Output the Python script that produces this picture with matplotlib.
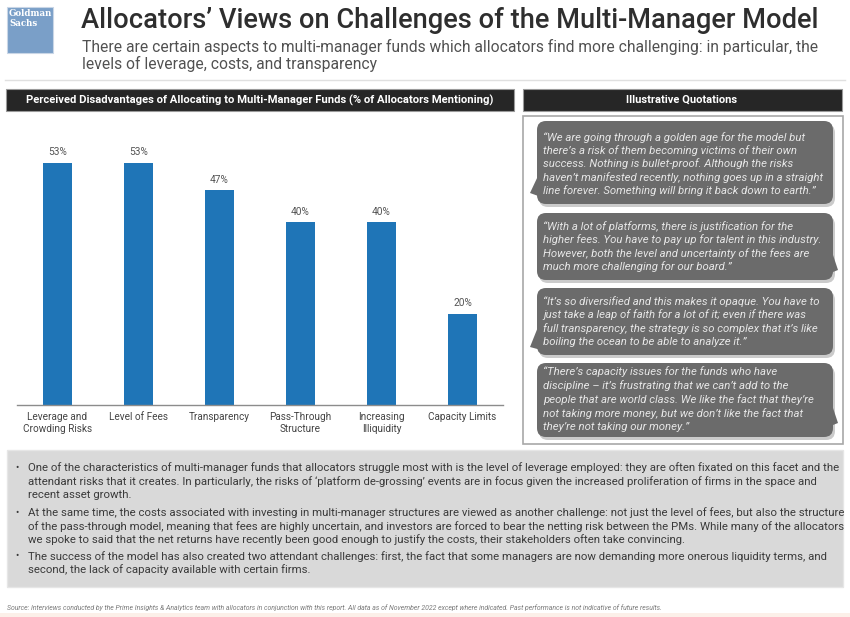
import matplotlib
matplotlib.use("Agg")
import matplotlib.pyplot as plt
from matplotlib import font_manager
from matplotlib.patches import Rectangle, FancyBboxPatch, Polygon

# fuente estrecha si existe, si no Roboto
fuentes = font_manager.fontManager.ttflist
nombres = {f.name for f in fuentes}
NARROW = 'Liberation Sans Narrow' if 'Liberation Sans Narrow' in nombres else 'Roboto'
# peso del titulo: Roboto Medium si esta instalada
hay_medium = any(f.name == 'Roboto' and f.weight == 500 for f in fuentes)
PESO_TITULO = 500 if hay_medium else 'bold'
plt.rcParams['font.family'] = ['Roboto', 'DejaVu Sans']

# ---------------- datos ----------------
categories = ['Leverage and\nCrowding Risks', 'Level of Fees', 'Transparency',
              'Pass-Through\nStructure', 'Increasing\nIlliquidity', 'Capacity Limits']
shares = [53, 53, 47, 40, 40, 20]

title = "Allocators’ Views on Challenges of the Multi-Manager Model"
subtitle = ["There are certain aspects to multi-manager funds which allocators find more challenging: in particular, the",
            "levels of leverage, costs, and transparency"]
chart_header = "Perceived Disadvantages of Allocating to Multi-Manager Funds (% of Allocators Mentioning)"
quotes_header = "Illustrative Quotations"

quotes = [
    ["“We are going through a golden age for the model but",
     "there’s a risk of them becoming victims of their own",
     "success. Nothing is bullet-proof. Although the risks",
     "haven’t manifested recently, nothing goes up in a straight",
     "line forever. Something will bring it back down to earth.”"],
    ["“With a lot of platforms, there is justification for the",
     "higher fees. You have to pay up for talent in this industry.",
     "However, both the level and uncertainty of the fees are",
     "much more challenging for our board.”"],
    ["“It’s so diversified and this makes it opaque. You have to",
     "just take a leap of faith for a lot of it; even if there was",
     "full transparency, the strategy is so complex that it’s like",
     "boiling the ocean to be able to analyze it.”"],
    ["“There’s capacity issues for the funds who have",
     "discipline – it’s frustrating that we can’t add to the",
     "people that are world class. We like the fact that they’re",
     "not taking more money, but we don’t like the fact that",
     "they’re not taking our money.”"],
]

bullets = [
    ["One of the characteristics of multi-manager funds that allocators struggle most with is the level of leverage employed: they are often fixated on this facet and the",
     "attendant risks that it creates. In particularly, the risks of ‘platform de-grossing’ events are in focus given the increased proliferation of firms in the space and",
     "recent asset growth."],
    ["At the same time, the costs associated with investing in multi-manager structures are viewed as another challenge: not just the level of fees, but also the structure",
     "of the pass-through model, meaning that fees are highly uncertain, and investors are forced to bear the netting risk between the PMs. While many of the allocators",
     "we spoke to said that the net returns have recently been good enough to justify the costs, their stakeholders often take convincing."],
    ["The success of the model has also created two attendant challenges: first, the fact that some managers are now demanding more onerous liquidity terms, and",
     "second, the lack of capacity available with certain firms."],
]

source = ("Source: Interviews conducted by the Prime Insights & Analytics team with allocators in conjunction with this report. "
          "All data as of November 2022 except where indicated. Past performance is not indicative of future results.")

# ---------------- figura ----------------
fig = plt.figure(figsize=(8.5, 6.17), dpi=100)
bg = fig.add_axes([0, 0, 1, 1])
bg.set_xlim(0, 850)
bg.set_ylim(617, 0)
bg.axis('off')
rend = fig.canvas.get_renderer()


def poner_lineas(x, ys, lineas, ancho, size, **kw):
    """Dibuja lineas de texto y ajusta el tamaño para que la mas larga mida 'ancho' px."""
    ts = [bg.text(x, y, l, fontsize=size, va='center', **kw) for l, y in zip(lineas, ys)]
    w = max(t.get_window_extent(rend).width for t in ts)
    nuevo = min(size * 1.2, size * ancho / w)
    for t in ts:
        t.set_fontsize(nuevo)
    return ts


# logo
bg.add_patch(Rectangle((7, 7), 46, 46, fc='#7a9fc8', ec='#c9d6e6', lw=0.8))
bg.text(9, 14, "Goldman", color='white', fontsize=6.2, family='DejaVu Serif', fontweight='bold', va='center')
bg.text(9, 23, "Sachs", color='white', fontsize=6.2, family='DejaVu Serif', fontweight='bold', va='center')

# titulo y subtitulo
poner_lineas(81, [20], [title], 737, 19, color='#2e2e2e', fontweight=PESO_TITULO)
poner_lineas(82, [47, 64], subtitle, 736, 11.5, color='#515151')
bg.plot([5, 845], [80, 80], color='#e0e0e0', lw=1)

# encabezados
bg.add_patch(Rectangle((6, 89), 508, 22, fc='#262626', ec='#9a9a9a', lw=0.8))
t = bg.text(260, 100, chart_header, color='white', fontsize=7.5, fontweight='bold', ha='center', va='center')
t.set_fontsize(7.5 * 466 / t.get_window_extent(rend).width)
bg.add_patch(Rectangle((523, 89), 319, 22, fc='#262626', ec='#9a9a9a', lw=0.8))
bg.text(682, 100, quotes_header, color='white', fontsize=8, fontweight='bold', ha='center', va='center')

# caja de citas
bg.add_patch(Rectangle((523, 116), 320, 328, fc='white', ec='#a8a8a8', lw=1.2))
cajas = [(121, 204), (213, 280), (288, 355), (363, 437)]
colas = [
    [(538, 176), (530, 193), (541, 197)],
    [(832, 252), (838, 270), (828, 274)],
    [(538, 327), (530, 347), (541, 350)],
    [(832, 405), (838, 423), (828, 427)],
]
lineas_y = [
    [138, 151, 164, 177.5, 191],
    [227, 240, 253.5, 267],
    [302, 315, 328.5, 342],
    [372, 386, 400, 413.5, 427],
]
# tamaño comun de las citas: la linea mas larga del primer globo mide ~280 px
prueba = bg.text(0, 0, quotes[0][3], fontsize=7.4, style='italic')
tam_cita = min(8.4, 7.4 * 280 / prueba.get_window_extent(rend).width)
prueba.remove()
for (y0, y1), cola, ys, q in zip(cajas, colas, lineas_y, quotes):
    sombra = FancyBboxPatch((539, y0 + 3), 296, y1 - y0, boxstyle='round,pad=0,rounding_size=9',
                            fc='#b5b5b5', ec='none', alpha=0.7)
    bg.add_patch(sombra)
    bg.add_patch(FancyBboxPatch((537, y0), 296, y1 - y0, boxstyle='round,pad=0,rounding_size=9',
                                fc='#6b6b6b', ec='none'))
    bg.add_patch(Polygon(cola, closed=True, fc='#6b6b6b', ec='none'))
    for l, y in zip(q, ys):
        bg.text(543, y, l, fontsize=tam_cita, style='italic', color='#e6e6e6', va='center')

# caja inferior
bg.add_patch(Rectangle((7, 450), 836, 137, fc='#d9d9d9', ec='#e6e6e6', lw=1))
bullet_y = [[468, 482, 495.5], [513, 526.5, 540], [556.5, 570]]
tam = None
for b, ys in zip(bullets, bullet_y):
    bg.text(15, ys[0], "•", fontsize=7, color='#3a3a3a', va='center')
    if tam is None:
        ts = poner_lineas(28, ys, b, 800, 8.5, color='#3a3a3a', family=NARROW)
        tam = ts[0].get_fontsize()
    else:
        for l, y in zip(b, ys):
            bg.text(28, y, l, fontsize=tam, color='#3a3a3a', va='center', family=NARROW)

# fuente
poner_lineas(7, [608], [source], 650, 4.5, color='#7a7a7a', style='italic', family=NARROW)
bg.add_patch(Rectangle((0, 613), 850, 4, fc='#fcf0e9', ec='none'))

# ---------------- grafica de barras ----------------
ax = fig.add_axes([17 / 850, (617 - 405) / 617, 486 / 850, 274 / 617])
ax.patch.set_alpha(0)
x = range(len(categories))
barras = ax.bar(x, shares, width=0.36, color='#1f75b7')
ax.bar_label(barras, labels=[f'{v}%' for v in shares], padding=4, fontsize=7.3, color='#555555')
ax.set_xlim(-0.5, len(categories) - 0.5)
ax.set_ylim(0, 60)
ax.set_xticks(list(x))
ax.set_xticklabels(categories, fontsize=7.2, color='#444444', linespacing=1.25)
ax.tick_params(axis='x', length=0, pad=5)
ax.set_yticks([])
for s in ['top', 'right', 'left']:
    ax.spines[s].set_visible(False)
ax.spines['bottom'].set_color('#8c8c8c')
ax.spines['bottom'].set_linewidth(1)

fig.savefig('out.png', dpi=100)
